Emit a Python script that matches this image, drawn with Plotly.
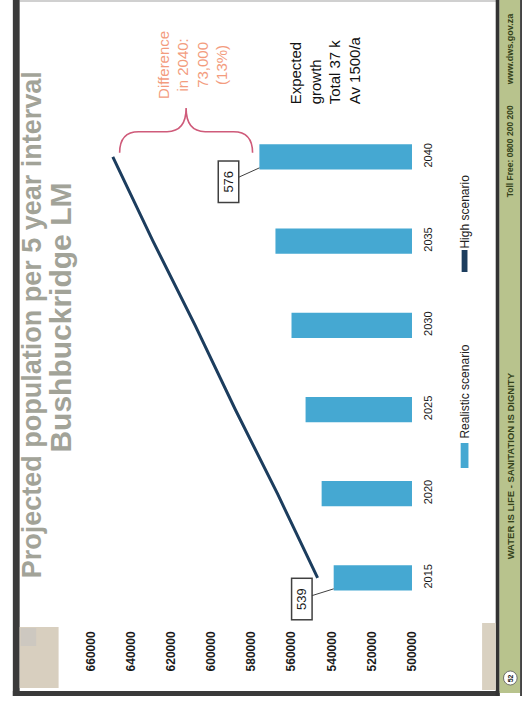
import plotly.graph_objects as go

# ---- data ----
years = [2015, 2020, 2025, 2030, 2035, 2040]
realistic = [539000, 545000, 553000, 560000, 568000, 576000]
high = [547000, 567000, 588000, 608000, 629000, 649000]
value_ticks = [500000, 520000, 540000, 560000, 580000, 600000, 620000, 640000, 660000]
series_names = ["Realistic scenario", "High scenario"]
title_lines = ["Projected population per 5 year interval", "Bushbuckridge LM"]
footer_texts = ["WATER IS LIFE - SANITATION IS DIGNITY", "Toll Free: 0800 200 200", "www.dws.gov.za"]
slide_number = "52"

# ---- styling ----
W, H = 529, 703
BAR_COLOR = "#45a8d2"
LINE_COLOR = "#1c3d5e"
TITLE_COLOR = "#a2a398"
FONT = "Liberation Sans, Arial, sans-serif"


def px(x):
    return x / W


def py(y):
    return 1 - y / H


fig = go.Figure()
fig.add_trace(go.Bar(
    x=realistic, y=years, orientation="h", width=1.5,
    marker=dict(color=BAR_COLOR, line=dict(width=0)),
    name=series_names[0],
))
fig.add_trace(go.Scatter(
    x=high, y=years, mode="lines",
    line=dict(color=LINE_COLOR, width=3),
    name=series_names[1],
))

shapes = []


def rect(x0, y0, x1, y1, color, layer="below"):
    shapes.append(dict(type="rect", xref="paper", yref="paper",
                       x0=px(x0), x1=px(x1), y0=py(y1), y1=py(y0),
                       fillcolor=color, line=dict(width=0), layer=layer))


# slide frame and footer band
rect(13, 0, 503, 2, "#d0d0d0")
rect(6, 0, 13, 696, "#3a3a3a")
rect(6, 691, 506, 696, "#3a3a3a")
rect(502, 0, 506, 696, "#333333")
rect(506, 0, 527, 693, "#b8c38d")
rect(527, 0, 529, 696, "#444444")
# picture thumbnails in the slide corners
rect(13, 627, 53, 688, "#d8cfbf")
rect(14, 628, 30, 646, "#cdc8c0")
rect(488, 623, 502, 690, "#d9d1c1")
# slide number badge
shapes.append(dict(type="circle", xref="paper", yref="paper",
                   x0=px(510), x1=px(524), y0=py(685), y1=py(671),
                   fillcolor="white", line=dict(color="#555555", width=0.8), layer="above"))

# legend swatches
rect(466, 443, 474, 468, BAR_COLOR, layer="above")
rect(467, 250, 473, 272, LINE_COLOR, layer="above")

# curly brace spanning the 2040 gap between scenarios
x_hi, x_lo = high[-1], realistic[-1]
inset, d = 3400, 9500
L, R, M = x_hi - inset, x_lo + inset, (x_hi + x_lo) / 2
y0, y1, y2 = years[-1] + 0.25, years[-1] + 1.5, years[-1] + 2.9
brace = (f"M {L},{y0} Q {L},{y1} {L - d},{y1} L {M + d},{y1} Q {M},{y1} {M},{y2} "
         f"Q {M},{y1} {M - d},{y1} L {R + d},{y1} Q {R},{y1} {R},{y0}")
shapes.append(dict(type="path", xref="x", yref="y", path=brace,
                   line=dict(color="#cf5b7a", width=1.6), layer="above"))

annotations = []


def note(x, y, text, size, color="#1a1a1a", bold=False, align="center"):
    annotations.append(dict(
        xref="paper", yref="paper", x=px(x), y=py(y), text=text, textangle=-90,
        showarrow=False, xanchor="center", yanchor="middle", align=align,
        font=dict(family=FONT, size=size, color=color, weight="bold" if bold else "normal"),
    ))


note(26, 325, title_lines[0], 27, TITLE_COLOR, bold=True)
note(54, 318, title_lines[1], 30, TITLE_COLOR, bold=True)

diff = high[-1] - realistic[-1]
pct = round(diff / realistic[-1] * 100)
note(191, 65, f"Difference<br>in 2040:<br>{diff:,}<br>({pct}%)", 15, "#f39c7e")
growth_k = (realistic[-1] - realistic[0]) // 1000
note(327, 70, f"Expected<br>growth<br>Total {growth_k} k<br>Av 1500/a", 15, "#111111", align="left")

note(470, 392, series_names[0], 12, "#222222")
note(470, 212, series_names[1], 12, "#222222")

note(517, 466, footer_texts[0], 9.5, "#34421a", bold=True)
note(517, 151, footer_texts[1], 8.5, "#34421a", bold=True)
note(517, 49, footer_texts[2], 9, "#34421a", bold=True)
note(517, 678, slide_number, 7, "#222222", bold=True)

# boxed value labels on the first and last bars
for i, (ax, ay) in ((0, (-32, 10)), (-1, (-31, 14))):
    annotations.append(dict(
        x=realistic[i], y=years[i] - 0.65, xref="x", yref="y",
        text=f"{realistic[i] // 1000}", textangle=-90,
        showarrow=True, arrowhead=0, arrowwidth=1, arrowcolor="#404040",
        ax=ax, ay=ay, standoff=0,
        bordercolor="#404040", borderwidth=1.5, borderpad=1, bgcolor="white",
        width=38, height=17,
        font=dict(family=FONT, size=13, color="#1a1a1a"),
    ))

fig.update_layout(
    width=W, height=H, autosize=False,
    margin=dict(l=0, r=0, t=0, b=0),
    paper_bgcolor="white", plot_bgcolor="rgba(0,0,0,0)",
    showlegend=False,
    shapes=shapes, annotations=annotations,
    xaxis=dict(
        domain=[px(86), px(416)], range=[660000, 500000],
        tickvals=value_ticks, tickformat="d", tickangle=-90,
        showgrid=False, zeroline=False, showline=False, ticks="",
        ticklabelstandoff=8,
        tickfont=dict(family=FONT, size=12, color="#1a1a1a", weight="bold"),
    ),
    yaxis=dict(
        domain=[py(620), py(98)], range=[2012.5, 2043.5], side="right",
        tickvals=years, tickangle=-90,
        showgrid=False, zeroline=False, showline=False, ticks="",
        ticklabelstandoff=8,
        tickfont=dict(family=FONT, size=11, color="#1a1a1a"),
    ),
)

fig.write_html("out.html", config={"displayModeBar": False})
